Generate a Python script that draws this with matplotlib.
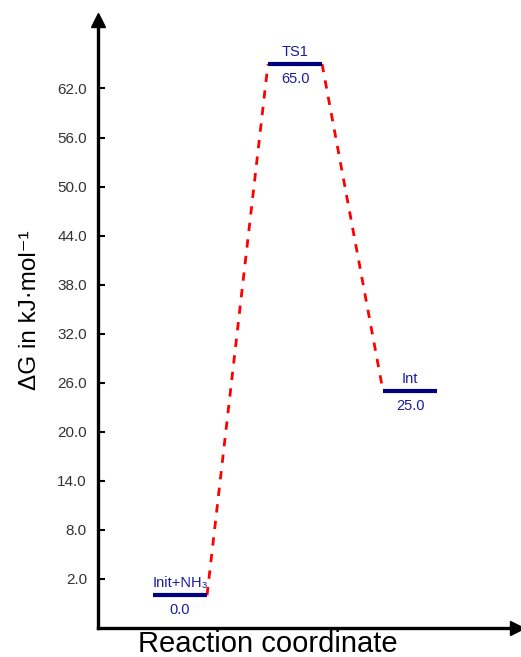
import matplotlib
matplotlib.use("Agg")
import matplotlib.pyplot as plt

states = ["Init+NH₃", "TS1", "Int"]
energies = [0.0, 65.0, 25.0]
positions = [1, 2, 3]
yticks = [2.0, 8.0, 14.0, 20.0, 26.0, 32.0, 38.0, 44.0, 50.0, 56.0, 62.0]

FAM = ["Liberation Sans", "DejaVu Sans"]
plt.rcParams["font.family"] = FAM

W, H = 521, 657
fig = plt.figure(figsize=(W / 100, H / 100), dpi=100)
ax_l, ax_r, ax_b, ax_t = 98, 517, 628, 20
ax = fig.add_axes([ax_l / W, (H - ax_b) / H, (ax_r - ax_l) / W, (ax_b - ax_t) / H])
ax.set_xlim(0.287, 3.93)
ax.set_ylim(-4.0, (595 - ax_t) / 8.17)

half = 0.235
level_color = "#000080"
text_color = "#1c1c9c"
for x, e, name in zip(positions, energies, states):
    ax.plot([x - half, x + half], [e, e], color=level_color, lw=3, solid_capstyle="butt", zorder=3)
    ax.annotate(name, (x, e), xytext=(0, 3.5), textcoords="offset points",
                ha="center", va="bottom", fontsize=10.5, color=text_color)
    ax.annotate(f"{e:.1f}", (x, e), xytext=(0, -5.5), textcoords="offset points",
                ha="center", va="top", fontsize=10.5, color=text_color)

for i in range(len(positions) - 1):
    ax.plot([positions[i] + half, positions[i + 1] - half], [energies[i], energies[i + 1]],
            color="#ff0000", lw=2, ls=(0, (3, 3)), zorder=2)

for s in ["top", "right"]:
    ax.spines[s].set_visible(False)
for s in ["left", "bottom"]:
    ax.spines[s].set_linewidth(2.4)
    ax.spines[s].set_color("black")

# arrows
ax.plot(1, 0, ">k", transform=ax.transAxes, clip_on=False, markersize=10)
ax.plot(0, 1, "^k", transform=ax.transAxes, clip_on=False, markersize=10)

ax.set_xticks([])
ax.set_yticks(yticks)
ax.set_yticklabels([f"{v:.1f}" for v in yticks])
ax.tick_params(axis="y", direction="in", length=5, width=1.5, labelsize=11,
               labelcolor="#333333", pad=8)

fig.text(30 / W, 1 - 310 / H, "ΔG in kJ·mol⁻¹", rotation=90, ha="center", va="center",
         fontsize=17.5, family=FAM)
fig.text(268 / W, 1 - 644 / H, "Reaction coordinate", ha="center", va="center",
         fontsize=21, family=FAM)

fig.savefig("out.png", dpi=100)
